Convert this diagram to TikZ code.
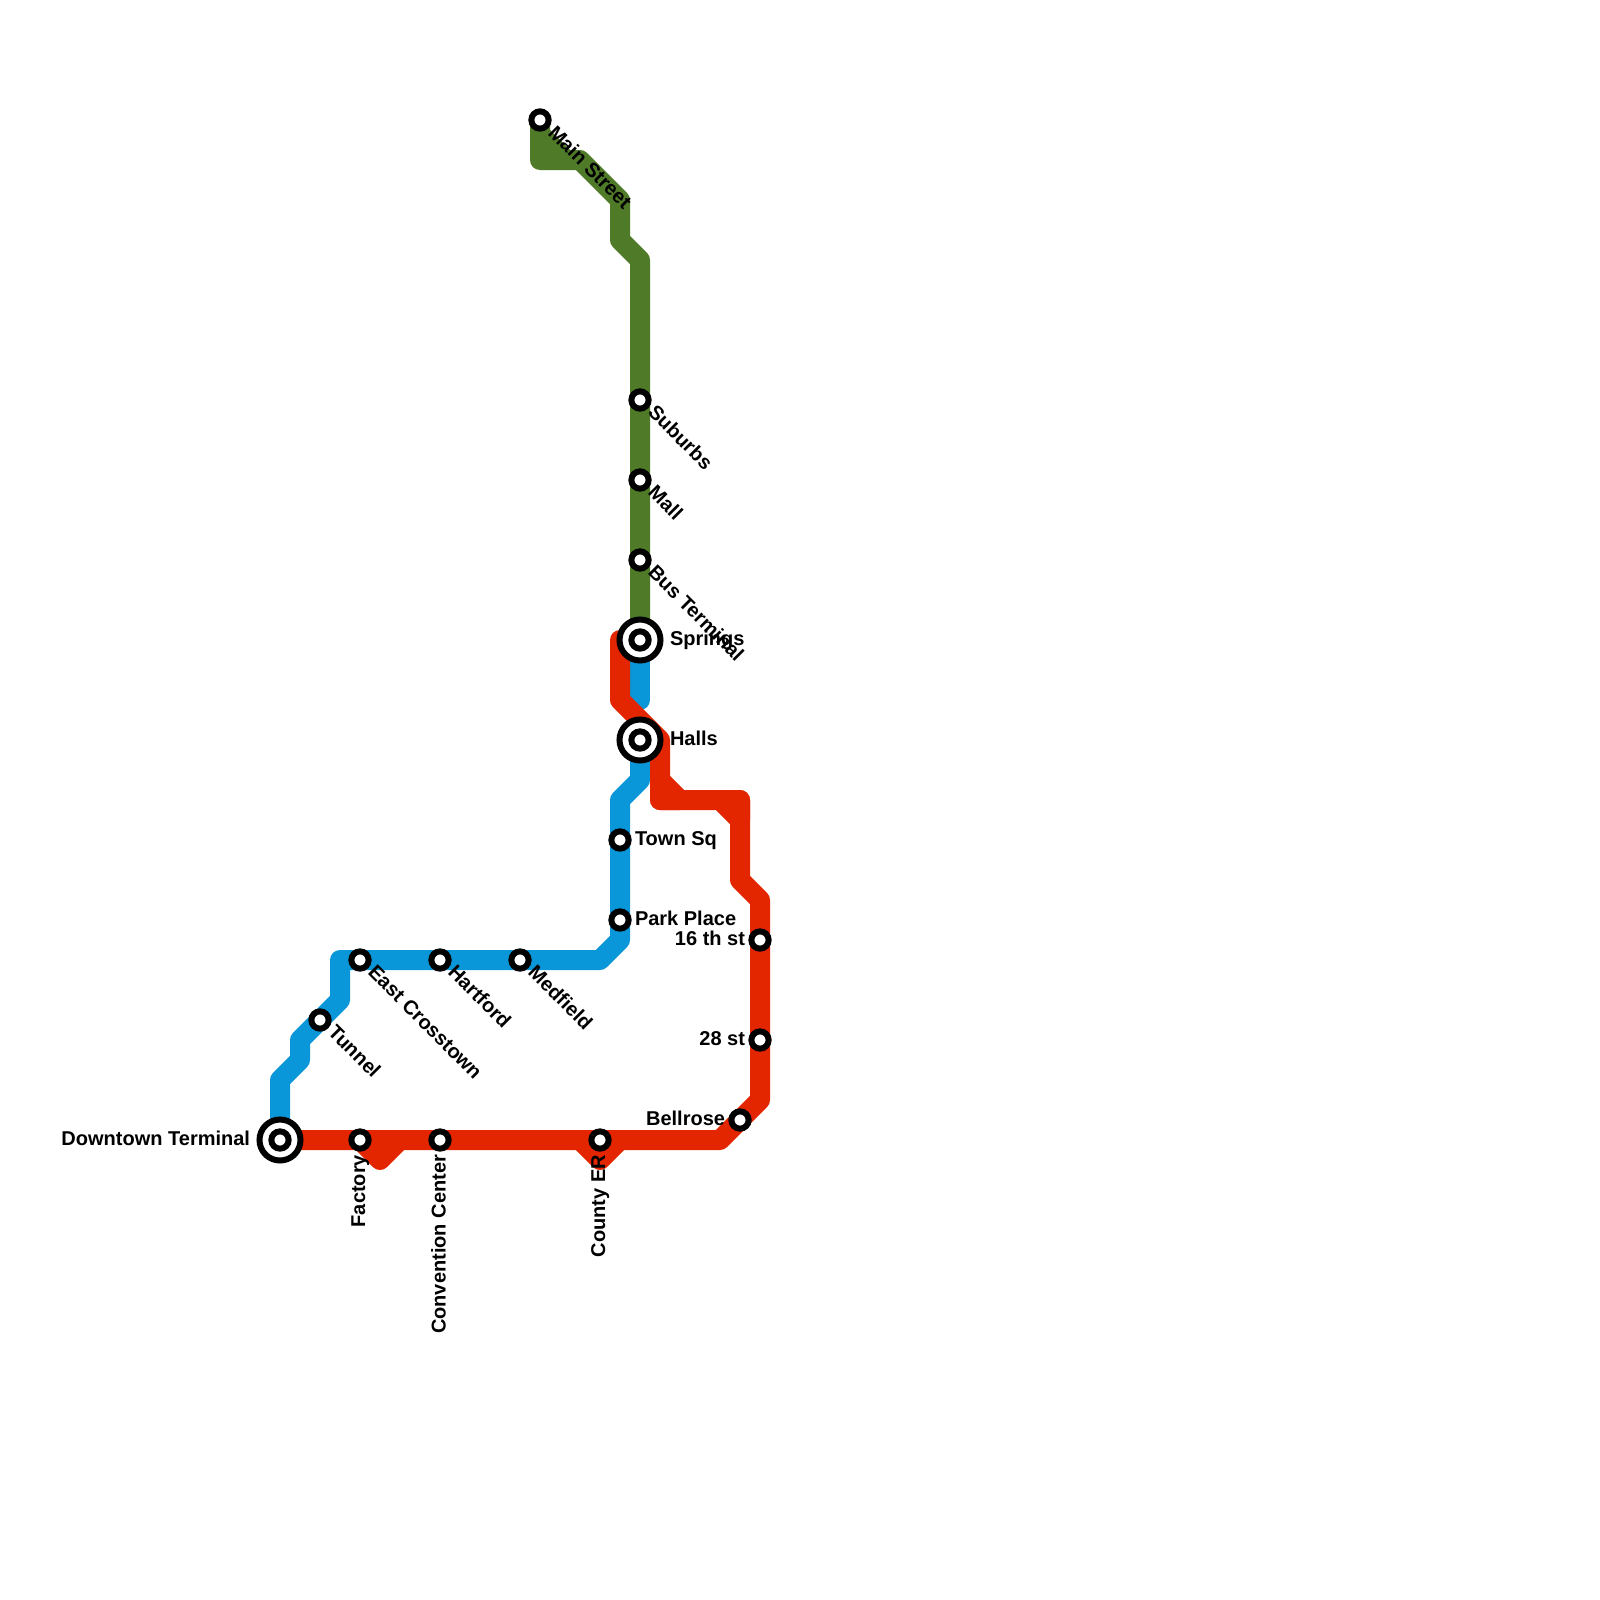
\documentclass[tikz,border=0pt]{standalone}
\usepackage{fontspec}
\setmainfont{Liberation Sans}
\definecolor{lgreen}{HTML}{4F7A28}
\definecolor{lblue}{HTML}{0A97D9}
\definecolor{lred}{HTML}{E42600}
\tikzset{
  route/.style={line width=20pt,line join=round,line cap=round},
  stn/.style={circle,draw=black,fill=white,line width=6pt,minimum size=17.3pt,inner sep=0pt,outer sep=0pt},
  hub/.style={circle,draw=black,fill=white,line width=6pt,minimum size=41pt,inner sep=0pt,outer sep=0pt},
  lab/.style={font=\bfseries\fontsize{20}{22}\selectfont,text=black,inner sep=0pt,outer sep=0pt},
  dr/.style={lab,anchor=base west,rotate=-45},
  rt/.style={lab,anchor=base west},
  lt/.style={lab,anchor=base east},
  up/.style={lab,anchor=base east,rotate=90},
}
\begin{document}
\begin{tikzpicture}[x=1pt,y=-1pt]
\useasboundingbox (0,0) rectangle (1600,1600);
% stations
\coordinate (main) at (540,120);
\coordinate (suburbs) at (640,400);
\coordinate (mall) at (640,480);
\coordinate (bus) at (640,560);
\coordinate (springs) at (640,640);
\coordinate (halls) at (640,740);
\coordinate (town) at (620,840);
\coordinate (park) at (620,920);
\coordinate (s16) at (760,940);
\coordinate (s28) at (760,1040);
\coordinate (bell) at (740,1120);
\coordinate (county) at (600,1140);
\coordinate (conv) at (440,1140);
\coordinate (factory) at (360,1140);
\coordinate (down) at (280,1140);
\coordinate (medf) at (520,960);
\coordinate (hart) at (440,960);
\coordinate (east) at (360,960);
\coordinate (tunnel) at (320,1020);
% green bends
\coordinate (g1) at (540,160);
\coordinate (g2) at (580,160);
\coordinate (g3) at (620,200);
\coordinate (g4) at (620,240);
\coordinate (g5) at (640,260);
% blue bends
\coordinate (b1) at (280,1080);
\coordinate (b2) at (300,1060);
\coordinate (b3) at (300,1040);
\coordinate (b4) at (340,1000);
\coordinate (b5) at (340,960);
\coordinate (b6) at (600,960);
\coordinate (b7) at (620,940);
\coordinate (b8) at (620,800);
\coordinate (b9) at (640,780);
\coordinate (b10) at (640,700);
% red bends
\coordinate (r1) at (620,640);
\coordinate (r2) at (620,700);
\coordinate (r3) at (660,740);
\coordinate (r4) at (660,800);
\coordinate (r4a) at (660,780);
\coordinate (r5) at (680,800);
\coordinate (r6) at (720,800);
\coordinate (r7) at (740,800);
\coordinate (r8) at (740,820);
\coordinate (r9) at (740,880);
\coordinate (r10) at (760,900);
\coordinate (r11) at (760,1100);
\coordinate (r12) at (720,1140);
\coordinate (r13) at (620,1140);
\coordinate (r14) at (600,1160);
\coordinate (r15) at (580,1140);
\coordinate (r16) at (400,1140);
\coordinate (r17) at (380,1160);
% green
\fill[lgreen] (main) -- (g1) -- (g2) -- cycle;
\draw[route,lgreen] (main) -- (g1) -- (g2) -- (g3) -- (g4) -- (g5) -- (springs);
% blue
\draw[route,lblue] (down) -- (b1) -- (b2) -- (b3) -- (tunnel) -- (b4) -- (b5) -- (east) -- (hart) -- (medf) -- (b6) -- (b7) -- (park) -- (town) -- (b8) -- (b9) -- (halls);
\draw[route,lblue] (springs) -- (b10);
% red
\draw[route,lred] (springs) -- (r1) -- (r2) -- (r3) -- (r4) -- (r7) -- (r8) -- (r9) -- (r10) -- (s16) -- (s28) -- (r11) -- (bell) -- (r12) -- (down);
\draw[route,lred,fill=lred] (r4a) -- (r4) -- (r5) -- cycle;
\draw[route,lred,fill=lred] (r6) -- (r7) -- (r8) -- cycle;
\draw[route,lred,fill=lred] (r13) -- (r14) -- (r15) -- cycle;
\draw[route,lred,fill=lred] (r16) -- (r17) -- (factory) -- cycle;
% station markers
\node[stn] (nmain) at (main) {};
\node[stn] (nsub) at (suburbs) {};
\node[stn] (nmall) at (mall) {};
\node[stn] (nbus) at (bus) {};
\node[hub] (hsprings) at (springs) {};
\node[stn] (nsprings) at (springs) {};
\node[hub] (hhalls) at (halls) {};
\node[stn] (nhalls) at (halls) {};
\node[stn] (ntown) at (town) {};
\node[stn] (npark) at (park) {};
\node[stn] (ns16) at (s16) {};
\node[stn] (ns28) at (s28) {};
\node[stn] (nbell) at (bell) {};
\node[stn] (ncounty) at (county) {};
\node[stn] (nconv) at (conv) {};
\node[stn] (nfactory) at (factory) {};
\node[hub] (hdown) at (down) {};
\node[stn] (ndown) at (down) {};
\node[stn] (nmedf) at (medf) {};
\node[stn] (nhart) at (hart) {};
\node[stn] (neast) at (east) {};
\node[stn] (ntunnel) at (tunnel) {};
% labels
\node[dr] (lmain) at (547,134) {Main Street};
\node[dr] (lsub) at (647,413.5) {Suburbs};
\node[dr] (lmall) at (647,493.5) {Mall};
\node[dr] (lbus) at (647,573.5) {Bus Terminal};
\node[rt] (lspr) at (670,645.5) {Springs};
\node[rt] (lhal) at (670,745.5) {Halls};
\node[rt] (ltown) at (635,845.5) {Town Sq};
\node[rt] (lpark) at (635,925.5) {Park Place};
\node[lt] (l16) at (745,945.5) {16 th st};
\node[lt] (l28) at (745,1045.5) {28 st};
\node[lt] (lbell) at (725,1125.5) {Bellrose};
\node[lt] (ldown) at (250,1145.5) {Downtown Terminal};
\node[up] (lcounty) at (605,1155) {County ER};
\node[up] (lconv) at (445.5,1155) {Convention Center};
\node[up] (lfact) at (365,1155) {Factory};
\node[dr] (lmedf) at (527,973.5) {Medfield};
\node[dr] (lhart) at (447,973.5) {Hartford};
\node[dr] (least) at (367,973.5) {East Crosstown};
\node[dr] (ltun) at (327,1033.5) {Tunnel};
\end{tikzpicture}
\end{document}
